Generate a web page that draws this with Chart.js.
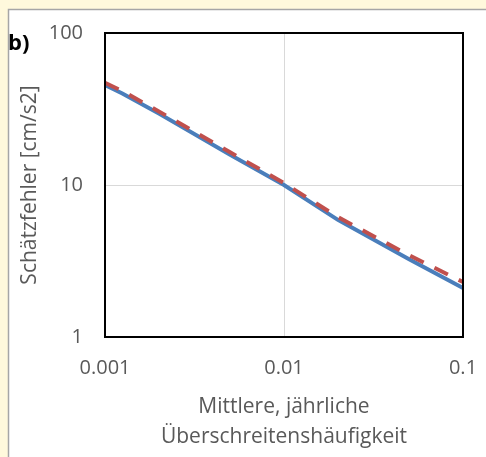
<!DOCTYPE html>
<html>
<head>
<meta charset="utf-8">
<script src="https://cdn.jsdelivr.net/npm/chart.js@4"></script>
<style>
  html, body { margin: 0; padding: 0; background: #FFF9DC; }
  #wrap { position: relative; width: 486px; height: 457px; }
  canvas { display: block; }
</style>
</head>
<body>
<div id="wrap"><canvas id="c" width="486" height="457"></canvas></div>
<script>
const frequencies = [0.001, 0.00125, 0.002, 0.005, 0.01, 0.02, 0.05, 0.1];
const errorBlue   = [45.5, 40, 29.5, 15.8, 10, 5.9, 3.25, 2.1];
const errorRed    = [47, 41.5, 30.5, 16.4, 10.3, 6.15, 3.45, 2.3];
const xTicks = [0.001, 0.01, 0.1];
const yTicks = [1, 10, 100];
const xTickLabels = ['0.001', '0.01', '0.1'];
const yTickLabels = ['1', '10', '100'];
const panelLabel = 'b)';
const xTitle = ['Mittlere, jährliche', 'Überschreitenshäufigkeit'];
const yTitle = 'Schätzfehler [cm/s2]';

const FONT = "'Open Sans', 'Liberation Sans', sans-serif";
const GREY = '#595959';
const TICK_SIZE = 20;
const TITLE_SIZE = 21;

const bgPlugin = {
  id: 'bg',
  beforeDraw(chart) {
    const ctx = chart.ctx;
    ctx.save();
    ctx.fillStyle = '#FFF9DC';
    ctx.fillRect(0, 0, chart.width, chart.height);
    ctx.fillStyle = '#FFFFFF';
    ctx.fillRect(8, 9, chart.width - 8, chart.height - 9);
    ctx.strokeStyle = '#A6A6A6';
    ctx.lineWidth = 1.5;
    ctx.beginPath();
    ctx.moveTo(8.5, chart.height);
    ctx.lineTo(8.5, 9.5);
    ctx.lineTo(chart.width, 9.5);
    ctx.stroke();
    ctx.fillStyle = '#000';
    ctx.font = "bold 22px " + FONT;
    ctx.textBaseline = 'alphabetic';
    ctx.textAlign = 'left';
    ctx.fillText(panelLabel, 8, 50);
    ctx.restore();
  },
  afterDraw(chart) {
    const a = chart.chartArea;
    const ctx = chart.ctx;
    ctx.save();
    ctx.strokeStyle = '#000';
    ctx.lineWidth = 2;
    ctx.strokeRect(a.left, a.top, a.right - a.left, a.bottom - a.top);
    ctx.restore();
  }
};

new Chart(document.getElementById('c'), {
  type: 'line',
  data: {
    labels: frequencies,
    datasets: [
      {
        data: frequencies.map((x, i) => ({x: x, y: errorRed[i]})),
        borderColor: '#C0504D',
        borderWidth: 4,
        borderDash: [15, 12],
        pointRadius: 0,
        tension: 0,
        fill: false,
        order: 0
      },
      {
        data: frequencies.map((x, i) => ({x: x, y: errorBlue[i]})),
        borderColor: '#4A7EBB',
        borderWidth: 4,
        pointRadius: 0,
        tension: 0,
        fill: false,
        order: 1
      }
    ]
  },
  plugins: [bgPlugin],
  options: {
    responsive: false,
    animation: false,
    devicePixelRatio: 1,
    layout: { padding: { left: 0, right: 23, top: 33, bottom: 0 } },
    plugins: { legend: { display: false }, tooltip: { enabled: false }, title: { display: false } },
    scales: {
      x: {
        type: 'logarithmic',
        min: 0.001, max: 0.1,
        afterBuildTicks(s) { s.ticks = xTicks.map(v => ({value: v})); },
        afterFit(s) { s.height = 120; s.paddingLeft = 0; s.paddingRight = 0; },
        ticks: {
          padding: 19,
          color: GREY,
          font: { family: FONT, size: TICK_SIZE },
          maxRotation: 0,
          autoSkip: false,
          callback: (v) => xTickLabels[xTicks.indexOf(v)] ?? ''
        },
        grid: { color: '#D9D9D9', lineWidth: 1, drawTicks: false },
        border: { display: false },
        title: {
          display: true,
          text: xTitle,
          color: GREY,
          font: { family: FONT, size: TITLE_SIZE, lineHeight: 30 / TITLE_SIZE },
          padding: { top: 0, bottom: 5 }
        }
      },
      y: {
        type: 'logarithmic',
        min: 1, max: 100,
        afterBuildTicks(s) { s.ticks = yTicks.map(v => ({value: v})); },
        afterFit(s) { s.width = 105; s.paddingTop = 0; s.paddingBottom = 0; },
        ticks: {
          padding: 22,
          color: GREY,
          font: { family: FONT, size: TICK_SIZE },
          autoSkip: false,
          callback: (v) => yTickLabels[yTicks.indexOf(v)] ?? ''
        },
        grid: { color: '#D9D9D9', lineWidth: 1, drawTicks: false },
        border: { display: false },
        title: {
          display: true,
          text: yTitle,
          color: GREY,
          font: { family: FONT, size: TITLE_SIZE },
          padding: { top: 17, bottom: 0 }
        }
      }
    }
  }
});
</script>
</body>
</html>
